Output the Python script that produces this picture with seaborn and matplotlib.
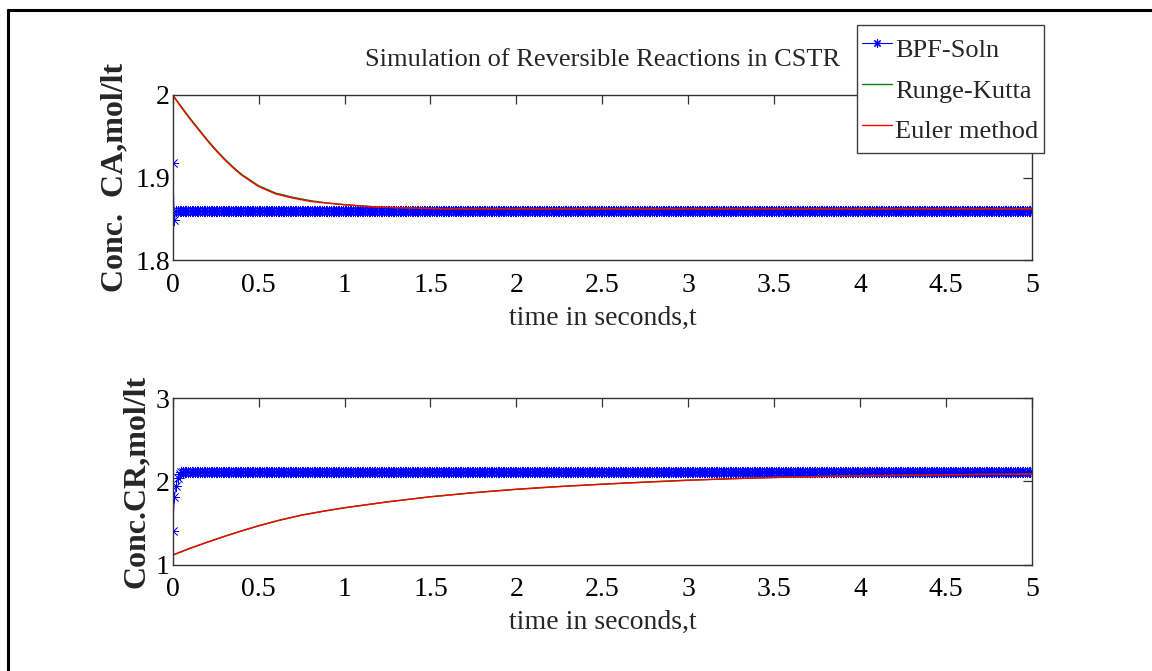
import numpy as np
import pandas as pd
import matplotlib
matplotlib.use("Agg")
import matplotlib.pyplot as plt
from matplotlib.lines import Line2D
import seaborn as sns

# ---------------- data ----------------
t_curve = [0.0, 0.05, 0.1, 0.15, 0.2, 0.25, 0.3, 0.35, 0.4, 0.45, 0.5, 0.6, 0.7,
           0.8, 0.9, 1.0, 1.2, 1.4, 1.6, 2.0, 2.5, 3.0, 3.5, 4.0, 4.5, 5.0]
ca_rk = [2.000, 1.986, 1.972, 1.959, 1.946, 1.934, 1.923, 1.913, 1.904, 1.897,
         1.890, 1.881, 1.876, 1.872, 1.869, 1.867, 1.864, 1.863, 1.862, 1.862,
         1.862, 1.862, 1.862, 1.862, 1.862, 1.862]
ca_euler = [2.000, 1.985, 1.971, 1.958, 1.945, 1.933, 1.922, 1.912, 1.903, 1.896,
            1.889, 1.880, 1.875, 1.871, 1.869, 1.867, 1.864, 1.863, 1.862, 1.862,
            1.862, 1.862, 1.862, 1.862, 1.862, 1.862]

t_cr = [0.0, 0.1, 0.2, 0.3, 0.4, 0.5, 0.625, 0.75, 0.875, 1.0, 1.25, 1.5, 1.75,
        2.0, 2.25, 2.5, 2.75, 3.0, 3.25, 3.5, 3.75, 4.0, 4.25, 4.5, 4.75, 5.0]
cr_rk = [1.114, 1.195, 1.268, 1.338, 1.404, 1.466, 1.535, 1.594, 1.640, 1.682,
         1.753, 1.814, 1.863, 1.904, 1.937, 1.965, 1.990, 2.013, 2.031, 2.046,
         2.057, 2.066, 2.072, 2.078, 2.083, 2.087]
cr_euler = [1.112, 1.193, 1.266, 1.336, 1.402, 1.464, 1.533, 1.592, 1.639, 1.681,
            1.752, 1.813, 1.862, 1.903, 1.936, 1.964, 1.989, 2.012, 2.030, 2.045,
            2.056, 2.065, 2.071, 2.077, 2.082, 2.086]

# BPF solution: sampled every 0.01 s, transient then steady state
t_bpf = np.round(np.arange(0, 501) * 0.01, 2)
ca_bpf = [1.917, 1.848] + [1.860] * 499
cr_bpf = [1.40, 1.81, 1.94, 2.04, 2.09, 2.11] + [2.115] * 495

x_ticks = [0, 0.5, 1, 1.5, 2, 2.5, 3, 3.5, 4, 4.5, 5]
x_ticklabels = ["0", "0.5", "1", "1.5", "2", "2.5", "3", "3.5", "4", "4.5", "5"]
ca_ticks = [1.8, 1.9, 2.0]
ca_ticklabels = ["1.8", "1.9", "2"]
cr_ticks = [1, 2, 3]
cr_ticklabels = ["1", "2", "3"]

series_names = ["BPF-Soln", "Runge-Kutta", "Euler method"]
title = "Simulation of Reversible Reactions in CSTR"
xlabel = "time in seconds,t"
ylabel_ca = "Conc.  CA,mol/lt"
ylabel_cr = "Conc.CR,mol/lt"

# ---------------- style ----------------
sns.set_style("white")
plt.rcParams["font.family"] = ["Liberation Serif", "DejaVu Serif"]

W, H = 1152, 671
fig = plt.figure(figsize=(W / 100, H / 100), dpi=100)
fig.patch.set_facecolor("white")

def px_axes(left, top, right, bottom):
    return fig.add_axes([left / W, 1 - bottom / H, (right - left) / W, (bottom - top) / H])

ax1 = px_axes(172.7, 95, 1032, 260)
ax2 = px_axes(172.7, 398, 1032, 564.5)

BLUE = "#0000FF"
GREEN = "#008000"
RED = "#FF0000"
asterisk = (8, 2, 0)

def draw(ax, tb, yb, tc, yrk, yeu):
    sns.lineplot(x=tb, y=yb, ax=ax, color=BLUE, lw=0.6, marker=asterisk,
                 markersize=8, markeredgewidth=0.5, markeredgecolor=BLUE,
                 estimator=None, sort=False, label=series_names[0])
    sns.lineplot(x=tc, y=yrk, ax=ax, color=GREEN, lw=1.0,
                 estimator=None, sort=False, label=series_names[1])
    sns.lineplot(x=tc, y=yeu, ax=ax, color=RED, lw=1.0,
                 estimator=None, sort=False, label=series_names[2])

draw(ax1, t_bpf, ca_bpf, t_curve, ca_rk, ca_euler)
draw(ax2, t_bpf, cr_bpf, t_cr, cr_rk, cr_euler)

for ax, yt, ytl, ylim, ylab in [(ax1, ca_ticks, ca_ticklabels, (1.8, 2.0), ylabel_ca),
                               (ax2, cr_ticks, cr_ticklabels, (1, 3), ylabel_cr)]:
    ax.set_xlim(0, 5)
    ax.set_ylim(*ylim)
    ax.set_xticks(x_ticks)
    ax.set_xticklabels(x_ticklabels)
    ax.set_yticks(yt)
    ax.set_yticklabels(ytl)
    ax.tick_params(direction="in", length=6.5, width=0.9, color="#333333",
                   top=True, right=True, labelsize=20, labelcolor="black")
    ax.tick_params(axis="x", pad=9)
    ax.tick_params(axis="y", pad=2)
    for s in ax.spines.values():
        s.set_color("#333333")
        s.set_linewidth(1.0)
        s.set_visible(True)
    ax.set_xlabel(xlabel, fontsize=20, labelpad=6)
    ax.set_ylabel(ylab, fontsize=23, fontweight="bold", labelpad=4)
    leg = ax.get_legend()
    if leg is not None:
        leg.remove()

ax1.text(0.5, 1.21, title, transform=ax1.transAxes, ha="center", va="center",
         fontsize=19)

handles = [Line2D([0], [0], color=BLUE, lw=0.8, marker=asterisk, markersize=6,
                  markeredgewidth=0.8),
           Line2D([0], [0], color=GREEN, lw=1.0),
           Line2D([0], [0], color=RED, lw=1.0)]
fig.legend(handles, series_names, loc="upper right",
           bbox_to_anchor=(1044 / W, 1 - 25 / H), fontsize=19,
           frameon=True, fancybox=False, framealpha=1, edgecolor="#404040",
           handlelength=1.1, handleheight=1.7, handletextpad=0.15,
           labelspacing=0.2, borderpad=0.2, borderaxespad=0)
fig.legends[0].get_frame().set_linewidth(1.0)

# outer frame (left and top edges)
fig.add_artist(Line2D([8 / W, 8 / W], [0, 1 - 10 / H], transform=fig.transFigure,
                      color="black", lw=2.2))
fig.add_artist(Line2D([8 / W, 1], [1 - 10 / H, 1 - 10 / H], transform=fig.transFigure,
                      color="black", lw=2.2))

fig.savefig("out.png", dpi=100, facecolor="white")
